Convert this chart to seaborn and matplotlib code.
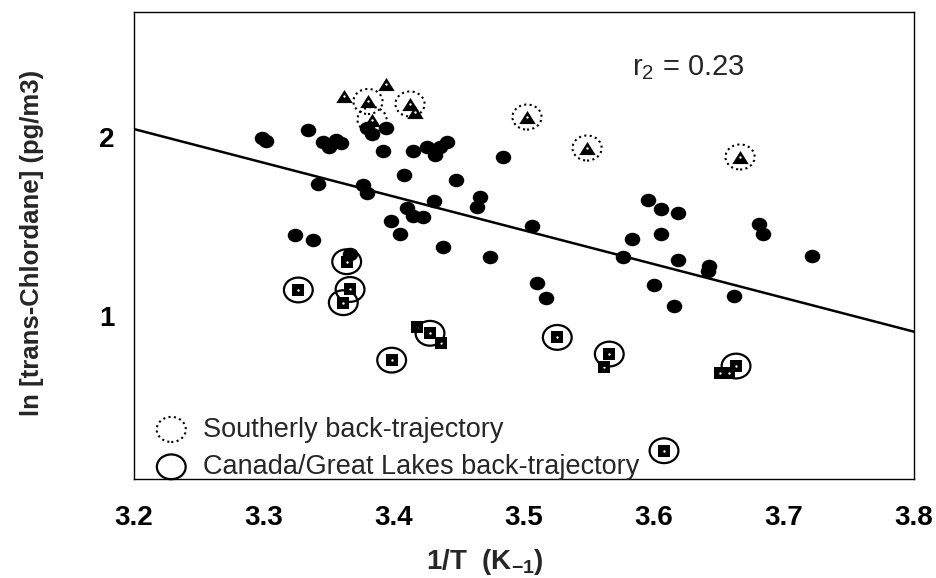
import numpy as np
import pandas as pd
import matplotlib
matplotlib.use("Agg")
import matplotlib.pyplot as plt
from matplotlib.path import Path
from matplotlib.transforms import Affine2D
import seaborn as sns

# ---------------- data ----------------
# all samples (filled dots)
dot_x = [3.2985, 3.3015, 3.3338, 3.3415, 3.3454, 3.3500, 3.3554, 3.3592,
         3.3238, 3.3377, 3.3662, 3.3792, 3.3831, 3.3938, 3.3915, 3.3762,
         3.3792, 3.4146, 3.4254, 3.4315, 3.4354, 3.4408, 3.4077, 3.4477,
         3.4308, 3.4100, 3.4146, 3.4223, 3.3977, 3.4046, 3.4377, 3.4738,
         3.4638, 3.4662, 3.4838, 3.5062, 3.5100, 3.5169, 3.5954, 3.6054,
         3.6185, 3.5831, 3.6054, 3.5762, 3.6185, 3.6423, 3.6415, 3.6000,
         3.6154, 3.6615, 3.6808, 3.6838, 3.7215]
dot_y = [1.993, 1.976, 2.037, 1.735, 1.970, 1.942, 1.982, 1.965,
         1.451, 1.423, 1.345, 2.049, 2.015, 2.049, 1.920, 1.730,
         1.685, 1.920, 1.942, 1.898, 1.942, 1.970, 1.786, 1.758,
         1.642, 1.603, 1.558, 1.553, 1.529, 1.456, 1.384, 1.328,
         1.607, 1.663, 1.887, 1.501, 1.182, 1.099, 1.646, 1.596,
         1.574, 1.428, 1.456, 1.328, 1.311, 1.278, 1.250, 1.171,
         1.054, 1.110, 1.512, 1.456, 1.334]

# southerly samples (triangles); circled = southerly back-trajectory
tri_x = [3.3615, 3.3938, 3.3800, 3.3831, 3.4123, 3.4162, 3.5023, 3.5485, 3.6662]
tri_y = [2.227, 2.294, 2.197, 2.096, 2.183, 2.141, 2.110, 1.937, 1.887]
tri_circled = [False, False, True, True, True, False, True, True, True]

# northern samples (squares); circled = Canada/Great Lakes back-trajectory
sq_x = [3.3636, 3.3264, 3.3662, 3.3610, 3.4175, 3.4277, 3.4359, 3.3982,
        3.5256, 3.5656, 3.5615, 3.6508, 3.6579, 3.6631, 3.6077]
sq_y = [1.302, 1.144, 1.147, 1.073, 0.939, 0.902, 0.849, 0.752,
        0.879, 0.786, 0.715, 0.682, 0.682, 0.719, 0.246]
sq_circled = [True, True, True, True, False, True, False, True,
              True, True, False, False, False, True, True]

# regression line end points
fit_x = [3.2, 3.8]
fit_y = [2.043, 0.911]

x_ticks = [3.2, 3.3, 3.4, 3.5, 3.6, 3.7, 3.8]
x_tick_labels = ["3.2", "3.3", "3.4", "3.5", "3.6", "3.7", "3.8"]
y_ticks = [1, 2]
y_tick_labels = ["1", "2"]
x_limits = [3.2, 3.8]
y_limits = [0.088, 2.697]

legend_labels = ["Southerly back-trajectory", "Canada/Great Lakes back-trajectory"]
r2_text = r"r$_\mathrm{2}$ = 0.23"
x_label = r"1/T  (K$_{\mathbf{-1}}$)"
y_label = "ln [trans-Chlordane] (pg/m3)"

# ---------------- style ----------------
sns.set_style("white")
plt.rcParams["font.family"] = ["Liberation Sans", "DejaVu Sans"]
plt.rcParams["mathtext.fontset"] = "custom"
plt.rcParams["mathtext.rm"] = "Liberation Sans"
plt.rcParams["mathtext.it"] = "Liberation Sans:italic"
plt.rcParams["mathtext.bf"] = "Liberation Sans:bold"

fig = plt.figure(figsize=(9.37, 5.78), dpi=100)
ax = fig.add_axes([134 / 937, 1 - 479 / 578, 780 / 937, 467 / 578])

# markers
ellipse = Affine2D().scale(1.0, 0.87).transform_path(Path.unit_circle())
ring = Affine2D().scale(1.0, 0.86).transform_path(Path.unit_circle())
triangle = [(0, 0.8), (-1, -0.8), (1, -0.8)]

dots = pd.DataFrame({"x": dot_x, "y": dot_y})
tris = pd.DataFrame({"x": tri_x, "y": tri_y, "circled": tri_circled})
sqs = pd.DataFrame({"x": sq_x, "y": sq_y, "circled": sq_circled})

sns.lineplot(x=fit_x, y=fit_y, color="black", linewidth=1.8, ax=ax, zorder=2)

sns.scatterplot(data=dots, x="x", y="y", marker=ellipse, s=125,
                color="black", edgecolor="black", linewidth=0, ax=ax, zorder=3)
sns.scatterplot(data=tris, x="x", y="y", marker=triangle, s=140,
                color="black", edgecolor="black", linewidth=0, ax=ax, zorder=4)
sns.scatterplot(data=sqs, x="x", y="y", marker="s", s=76,
                color="black", edgecolor="black", linewidth=0, ax=ax, zorder=4)
# small white centres of triangles and squares
sns.scatterplot(data=tris, x="x", y="y", marker="o", s=3,
                color="white", linewidth=0, ax=ax, zorder=5)
sns.scatterplot(data=sqs, x="x", y="y", marker="o", s=3,
                color="white", linewidth=0, ax=ax, zorder=5)

# trajectory rings
sns.scatterplot(data=tris[tris["circled"]], x="x", y="y", marker=ring, s=440,
                facecolor="none", edgecolor="black", linewidth=1.5,
                linestyle=(0, (1, 1.6)), ax=ax, zorder=6, label=legend_labels[0])
sns.scatterplot(data=sqs[sqs["circled"]], x="x", y="y", marker=ring, s=430,
                facecolor="none", edgecolor="black", linewidth=1.6,
                ax=ax, zorder=6, label=legend_labels[1])

ax.set_xlim(x_limits)
ax.set_ylim(y_limits)
ax.set_xticks(x_ticks, x_tick_labels)
ax.set_yticks(y_ticks, y_tick_labels)
ax.tick_params(axis="both", direction="out", length=6, width=1,
               labelsize=20, colors="black")
ax.tick_params(axis="x", pad=13)
ax.tick_params(axis="y", pad=8)
for lab in ax.get_xticklabels() + ax.get_yticklabels():
    lab.set_fontweight("bold")

for sp in ax.spines.values():
    sp.set_visible(True)
    sp.set_color("black")
    sp.set_linewidth(1.0)

ax.set_xlabel(x_label, fontsize=20, fontweight="bold")
ax.xaxis.set_label_coords(0.45, -0.145)
ax.set_ylabel(y_label, fontsize=18.5, fontweight="bold")
ax.yaxis.set_label_coords(-0.115, 0.505)

ax.text(0.638, 0.865, r2_text, transform=ax.transAxes, fontsize=21,
        va="baseline", ha="left")

handles, labels = ax.get_legend_handles_labels()
ax.legend(handles, labels, loc="lower left", bbox_to_anchor=(0.02, -0.002),
          frameon=False, fontsize=19.5, handlelength=1.6, handletextpad=0.39,
          labelspacing=0.42, borderpad=0, borderaxespad=0, scatterpoints=1)

fig.savefig("out.png", dpi=100)
